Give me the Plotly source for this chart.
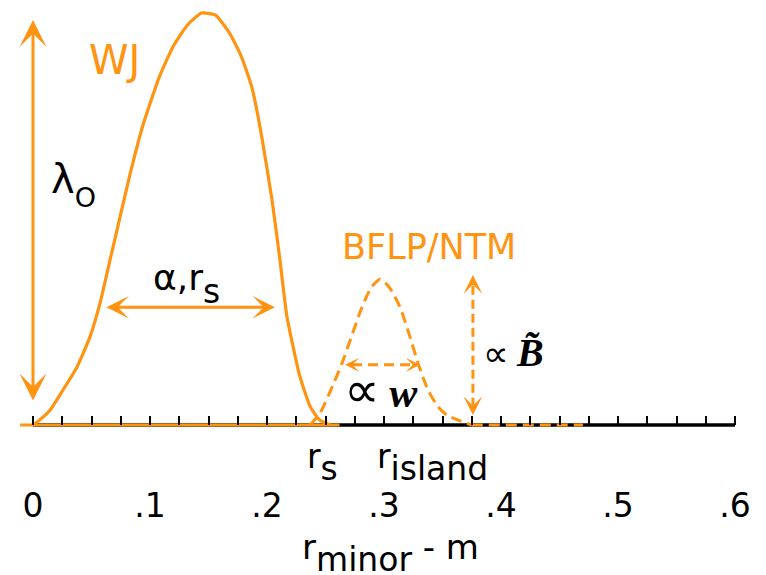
import plotly.graph_objects as go

# ---------------- data ----------------
wj_r = [0.000, 0.0034, 0.0145, 0.0256, 0.0376, 0.0487, 0.0573, 0.0658, 0.0744, 0.0829,
        0.094, 0.108, 0.120, 0.132, 0.144, 0.156, 0.168, 0.178, 0.187, 0.1955,
        0.2043, 0.2111, 0.2171, 0.2282, 0.237, 0.245, 0.254]
wj_y = [0.000, 0.007, 0.036, 0.085, 0.141, 0.214, 0.296, 0.400, 0.505, 0.608,
        0.728, 0.845, 0.920, 0.971, 1.000, 0.995, 0.951, 0.895, 0.820, 0.700,
        0.546, 0.400, 0.262, 0.117, 0.044, 0.012, 0.000]

wj_base_r = [-0.011, 0.262]
wj_base_y = [0.0, 0.0]

ntm_r = [0.2368, 0.2453, 0.2564, 0.2641, 0.2726, 0.2812, 0.2889, 0.2966, 0.3043,
         0.3137, 0.3222, 0.3291, 0.3376, 0.3462, 0.3538, 0.365, 0.375]
ntm_y = [0.000, 0.029, 0.097, 0.150, 0.218, 0.286, 0.333, 0.354, 0.335,
         0.286, 0.214, 0.150, 0.085, 0.044, 0.024, 0.010, 0.000]

ntm_base_r = [0.375, 0.470]
ntm_base_y = [0.0, 0.0]

axis_r = [0.0, 0.6]
axis_y = [0.0, 0.0]

tick_vals = [0.0, 0.1, 0.2, 0.3, 0.4, 0.5, 0.6]
tick_text = ["0", ".1", ".2", ".3", ".4", ".5", ".6"]
minor_vals = [0.025, 0.05, 0.075, 0.125, 0.15, 0.175, 0.225, 0.25, 0.275,
              0.325, 0.35, 0.375, 0.425, 0.45, 0.475, 0.525, 0.55, 0.575]

# arrows (r, y) pairs
lam_arrow = dict(r=0.0, y0=0.056, y1=0.983)
alpha_arrow = dict(y=0.286, r0=0.0615, r1=0.2068)
w_arrow = dict(y=0.146, r0=0.2667, r1=0.3308)
b_arrow = dict(r=0.376, y0=0.024, y1=0.364)

# ---------------- style ----------------
ORANGE = "#FF9312"
FONT = "DejaVu Sans"
W, H = 766, 575
X0PX, PXPU_X = 33, 1170.0   # pixel of r=0, pixels per unit
Y0PX, PXPU_Y = 425, 412.0

xr = [(0 - X0PX) / PXPU_X, (W - X0PX) / PXPU_X]
yr = [(Y0PX - H) / PXPU_Y, Y0PX / PXPU_Y]
zero_frac = (0 - yr[0]) / (yr[1] - yr[0])


def px(xp):
    return xp / W


def py(yp):
    return 1 - yp / H


def sub(t, size):
    return "<sub><sub><span style='font-size:%dpx'>%s</span></sub></sub>" % (size, t)


fig = go.Figure()

fig.add_trace(go.Scatter(x=axis_r, y=axis_y, mode="lines",
                         line=dict(color="black", width=3.5), hoverinfo="skip"))
fig.add_trace(go.Scatter(x=wj_base_r, y=wj_base_y, mode="lines",
                         line=dict(color=ORANGE, width=3), hoverinfo="skip"))
fig.add_trace(go.Scatter(x=wj_r, y=wj_y, mode="lines",
                         line=dict(color=ORANGE, width=3.2, shape="spline", smoothing=0.5),
                         hoverinfo="skip"))
fig.add_trace(go.Scatter(x=ntm_r, y=ntm_y, mode="lines",
                         line=dict(color=ORANGE, width=3, dash="11px,6px",
                                   shape="spline", smoothing=0.6),
                         hoverinfo="skip"))
fig.add_trace(go.Scatter(x=ntm_base_r, y=ntm_base_y, mode="lines",
                         line=dict(color=ORANGE, width=3, dash="11px,6px"),
                         hoverinfo="skip"))
# dashed arrow shafts
fig.add_trace(go.Scatter(x=[w_arrow["r0"] + 0.006, w_arrow["r1"] - 0.006],
                         y=[w_arrow["y"], w_arrow["y"]], mode="lines",
                         line=dict(color=ORANGE, width=3, dash="10px,6px"), hoverinfo="skip"))
fig.add_trace(go.Scatter(x=[b_arrow["r"], b_arrow["r"]],
                         y=[b_arrow["y0"] + 0.02, b_arrow["y1"] - 0.02], mode="lines",
                         line=dict(color=ORANGE, width=3, dash="9px,5px"), hoverinfo="skip"))

ann = []
# solid double arrows
ann.append(dict(x=lam_arrow["r"], y=lam_arrow["y1"], ax=lam_arrow["r"], ay=lam_arrow["y0"],
                xref="x", yref="y", axref="x", ayref="y", text="", showarrow=True,
                arrowhead=3, startarrowhead=3, arrowside="end+start",
                arrowsize=1.5, startarrowsize=1.5, arrowwidth=3, arrowcolor=ORANGE,
                font=dict(size=1)))
ann.append(dict(x=alpha_arrow["r1"], y=alpha_arrow["y"], ax=alpha_arrow["r0"], ay=alpha_arrow["y"],
                xref="x", yref="y", axref="x", ayref="y", text="", showarrow=True,
                arrowhead=3, startarrowhead=3, arrowside="end+start",
                arrowsize=1.25, startarrowsize=1.25, arrowwidth=3, arrowcolor=ORANGE,
                font=dict(size=1)))
# heads for dashed arrows
for (hx, hy, dx, dy, s) in [
    (w_arrow["r0"], w_arrow["y"], 7, 0, 0.8),
    (w_arrow["r1"], w_arrow["y"], -7, 0, 0.8),
    (b_arrow["r"], b_arrow["y1"], 0, 7, 1.05),
    (b_arrow["r"], b_arrow["y0"], 0, -7, 1.05),
]:
    ann.append(dict(x=hx, y=hy, ax=dx, ay=dy, xref="x", yref="y", text="", showarrow=True,
                    arrowhead=3, arrowsize=s, arrowwidth=3, arrowcolor=ORANGE,
                    font=dict(size=1)))


# text labels (pixel positions converted to paper)
def label(xp, yp, text, size, color="black", family=FONT, anchor="center"):
    ann.append(dict(x=px(xp), y=py(yp), xref="paper", yref="paper", text=text,
                    showarrow=False, xanchor=anchor, yanchor="middle",
                    font=dict(family=family, size=size, color=color)))


SERIF = "font-family:Liberation Serif"
label(114, 60, "WJ", 40, ORANGE)
label(429, 247, "BFLP/NTM", 35, ORANGE)
label(49, 185, "λ" + sub("O", 27), 40, anchor="left")
label(151, 284, "α,r" + sub("s", 33), 36, anchor="left")
label(342, 390, "<span style='font-size:50px'>∝</span> "
      "<span style='%s;font-size:42px'><b><i>w</i></b></span>" % SERIF, 30, anchor="left")
label(481, 352, "<span style='font-size:36px'>∝</span> "
      "<span style='%s;font-size:40px'><b><i>B̃</i></b></span>" % SERIF, 26, anchor="left")
label(305, 462, "r" + sub("s", 33), 33, anchor="left")
label(375, 462, "r" + sub("island", 33), 33, anchor="left")
label(300, 553, "r" + sub("minor", 33) + " - m", 34, anchor="left")

fig.update_layout(
    width=W, height=H,
    margin=dict(l=0, r=0, t=0, b=0),
    paper_bgcolor="white", plot_bgcolor="white",
    showlegend=False,
    annotations=ann,
    xaxis=dict(range=xr, anchor="free", position=zero_frac, showgrid=False, zeroline=False,
               showline=False, tickmode="array", tickvals=tick_vals, ticktext=tick_text,
               ticks="inside", ticklen=9, tickwidth=2, tickcolor="black",
               ticklabelstandoff=58, automargin=False,
               tickfont=dict(family=FONT, size=33, color="black"),
               minor=dict(tickvals=minor_vals, ticks="inside", ticklen=9,
                          tickwidth=2, tickcolor="black")),
    yaxis=dict(range=yr, visible=False, showgrid=False, zeroline=False),
)

fig.write_html("out.html")
